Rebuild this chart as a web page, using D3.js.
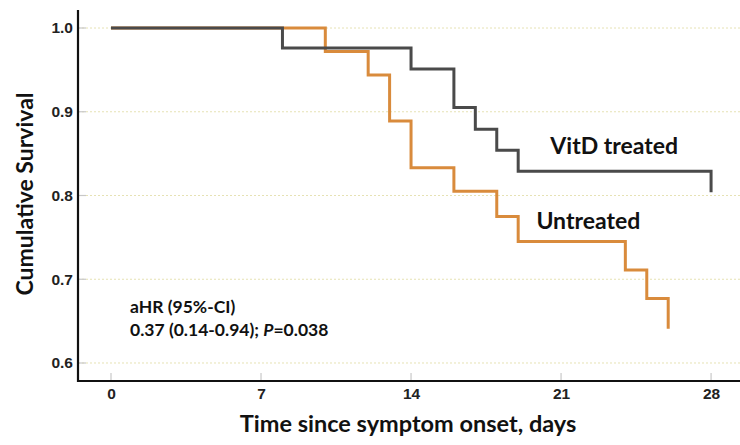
<!DOCTYPE html>
<html>
<head>
<meta charset="utf-8">
<script src="https://cdn.jsdelivr.net/npm/d3@7"></script>
<style>
  body { margin: 0; background: #fff; }
  svg { display: block; font-family: Lato, "Open Sans", sans-serif; }
</style>
</head>
<body>
<svg id="chart" width="740" height="445"></svg>
<script>
// Kaplan-Meier steps (days, survival after event)
const treatedDays = [0, 8, 14, 16, 17, 18, 19, 28];
const treatedSurv = [1.0, 0.976, 0.951, 0.905, 0.879, 0.854, 0.829, 0.804];

const untreatedDays = [0, 10, 12, 13, 14, 16, 18, 19, 24, 25, 26];
const untreatedSurv = [1.0, 0.972, 0.944, 0.889, 0.833, 0.805, 0.775, 0.745, 0.711, 0.677, 0.641];

const xTicks = [0, 7, 14, 21, 28];
const yTicks = [0.6, 0.7, 0.8, 0.9, 1.0];

const svg = d3.select('#chart');
const width = +svg.attr('width');
const height = +svg.attr('height');
const margin = { top: 10, right: 0, bottom: 64, left: 78 };
const innerWidth = width - margin.left - margin.right;
const innerHeight = height - margin.top - margin.bottom;

const xScale = d3.scaleLinear()
    .domain([-1.54, 29.35])
    .range([0, innerWidth]);

const yScale = d3.scaleLinear()
    .domain([0.5785, 1.0215])
    .range([innerHeight, 0]);

const g = svg.append('g')
    .attr('transform', `translate(${margin.left},${margin.top})`);

// dotted gridlines
g.append('g')
    .selectAll('line')
    .data(yTicks)
    .join('line')
    .attr('x1', 0)
    .attr('x2', innerWidth)
    .attr('y1', d => yScale(d))
    .attr('y2', d => yScale(d))
    .attr('stroke', '#e6e2b4')
    .attr('stroke-width', 1)
    .attr('stroke-dasharray', '2,2');

// y axis
const yAxis = g.append('g')
    .call(d3.axisLeft(yScale).tickValues(yTicks).tickFormat(d3.format('.1f')).tickSize(0).tickPadding(5));
yAxis.select('.domain').remove();
yAxis.selectAll('text')
    .attr('font-size', 15.5)
    .attr('font-weight', 'bold')
    .attr('fill', '#222');
// short grey inner ticks
g.append('g')
    .selectAll('line')
    .data(yTicks)
    .join('line')
    .attr('x1', 0)
    .attr('x2', 8)
    .attr('y1', d => yScale(d))
    .attr('y2', d => yScale(d))
    .attr('stroke', '#c8c8c8')
    .attr('stroke-width', 1.2);

// x axis
const xAxis = g.append('g')
    .attr('transform', `translate(0,${innerHeight})`)
    .call(d3.axisBottom(xScale).tickValues(xTicks).tickSize(0).tickPadding(7));
xAxis.select('.domain').remove();
xAxis.selectAll('text')
    .attr('font-size', 15.5)
    .attr('font-weight', 'bold')
    .attr('fill', '#222');
g.append('g')
    .selectAll('line')
    .data(xTicks)
    .join('line')
    .attr('x1', d => xScale(d))
    .attr('x2', d => xScale(d))
    .attr('y1', innerHeight)
    .attr('y2', innerHeight - 8)
    .attr('stroke', '#c8c8c8')
    .attr('stroke-width', 1.2);

// axis lines
g.append('path')
    .attr('d', `M0,0V${innerHeight}H${innerWidth}`)
    .attr('fill', 'none')
    .attr('stroke', '#111')
    .attr('stroke-width', 2.2);

// survival curves
const line = d3.line()
    .x(d => xScale(d[0]))
    .y(d => yScale(d[1]))
    .curve(d3.curveStepAfter);

const series = [
    { days: untreatedDays, surv: untreatedSurv, color: '#d98b3c' },
    { days: treatedDays, surv: treatedSurv, color: '#4a4a4a' }
];

series.forEach(s => {
    g.append('path')
        .datum(d3.zip(s.days, s.surv))
        .attr('fill', 'none')
        .attr('stroke', s.color)
        .attr('stroke-width', 3)
        .attr('d', line);
});

// curve labels
g.append('text')
    .attr('x', xScale(20.5))
    .attr('y', yScale(0.849))
    .attr('font-size', 23)
    .attr('font-weight', 'bold')
    .attr('fill', '#111')
    .text('VitD treated');

g.append('text')
    .attr('x', xScale(19.85))
    .attr('y', yScale(0.7605))
    .attr('font-size', 23)
    .attr('font-weight', 'bold')
    .attr('fill', '#111')
    .text('Untreated');

// hazard ratio note
const note = g.append('text')
    .attr('font-size', 17.5)
    .attr('font-weight', 'bold')
    .attr('fill', '#111');
note.append('tspan')
    .attr('x', xScale(0.89))
    .attr('y', yScale(0.66))
    .text('aHR (95%-CI)');
const line2 = note.append('tspan')
    .attr('x', xScale(0.89))
    .attr('y', yScale(0.6325));
line2.append('tspan').text('0.37 (0.14-0.94); ');
line2.append('tspan').attr('font-style', 'italic').text('P');
line2.append('tspan').text('=0.038');

// axis titles
svg.append('text')
    .attr('x', margin.left + xScale(14) - 3)
    .attr('y', 432)
    .attr('text-anchor', 'middle')
    .attr('font-size', 23.5)
    .attr('font-weight', 'bold')
    .attr('fill', '#111')
    .text('Time since symptom onset, days');

svg.append('text')
    .attr('transform', `translate(33,194) rotate(-90)`)
    .attr('text-anchor', 'middle')
    .attr('font-size', 23)
    .attr('font-weight', 'bold')
    .attr('fill', '#111')
    .text('Cumulative Survival');
</script>
</body>
</html>
